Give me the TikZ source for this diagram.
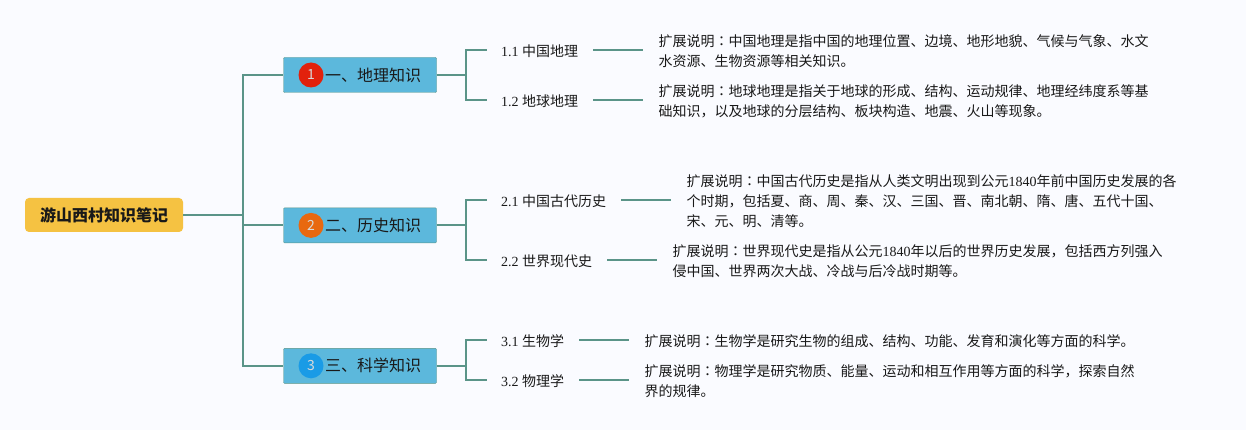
\documentclass[tikz,border=0pt]{standalone}
\usepackage{fontspec}
\usepackage{xcolor}
\setmainfont{Noto Sans CJK SC}
\newfontfamily\latinfont{Liberation Serif}
\newfontfamily\colonfont{Noto Sans CJK TC}
\usetikzlibrary{positioning}
\definecolor{MapBack}{HTML}{FAFBFF}
\definecolor{MapLine}{HTML}{5A9488}
\definecolor{MapRoot}{HTML}{F5C242}
\definecolor{MapTopic}{HTML}{5CB8DC}
\definecolor{MapBadgeA}{HTML}{E2210C}
\definecolor{MapBadgeB}{HTML}{E8680F}
\definecolor{MapBadgeC}{HTML}{1A9BE6}
\newcommand{\secno}[1]{{\latinfont #1}}
\newcommand{\mapcolon}{{\colonfont ：}}

\begin{document}
\begin{tikzpicture}[x=1pt, y=-1pt, every node/.style={font=\fontsize{14pt}{20pt}\selectfont, text=black!90, inner sep=0pt}]
      \tikzset{
        root/.style={rectangle, rounded corners=4pt, fill=MapRoot, minimum width=158pt, minimum height=34pt, text height=15pt, text depth=2pt, font=\fontsize{16pt}{20pt}\selectfont\bfseries},
        topic/.style={rectangle, rounded corners=1pt, draw=MapLine, fill=MapTopic, minimum width=153pt, minimum height=35pt, font=\fontsize{16pt}{20pt}\selectfont},
        badge/.style={circle, minimum size=25pt, text=white!70!gray, font=\fontsize{14pt}{14pt}\selectfont},
        sub/.style={rectangle, anchor=west, text height=15.5pt, text depth=2pt},
        desc/.style={rectangle, anchor=west, align=left, yshift=-1.5pt},
        line/.style={line width=1.8pt, color=MapLine}
      }
      \fill[MapBack] (0,0) rectangle (1246,430);
      \useasboundingbox (0,0) rectangle (1246,430);

      % Nodes
      \node[root] (root) at (104,215) {游山西村知识笔记};
      \node[topic] (geo) at (360,75) {\hspace*{26pt}一、地理知识};
      \node[topic, below=115pt of geo] (his) {\hspace*{26pt}二、历史知识};
      \node[topic, below=105pt of his] (sci) {\hspace*{26pt}三、科学知识};
      \node[badge, fill=MapBadgeA, right=15pt of geo.west] (geoB) {1};
      \node[badge, fill=MapBadgeB, right=15pt of his.west] (hisB) {2};
      \node[badge, fill=MapBadgeC, right=15pt of sci.west] (sciB) {3};

      \node[sub] (s11) at (501,50) {\secno{1.1 }中国地理};
      \node[sub] (s12) at (501,100) {\secno{1.2 }地球地理};
      \node[sub] (s21) at (501,200) {\secno{2.1 }中国古代历史};
      \node[sub] (s22) at (501,260) {\secno{2.2 }世界现代史};
      \node[sub] (s31) at (501,340) {\secno{3.1 }生物学};
      \node[sub] (s32) at (501,380) {\secno{3.2 }物理学};

      \node[desc, right=80pt of s11] (d11) {扩展说明\mapcolon 中国地理是指中国的地理位置、边境、地形地貌、气候与气象、水文\\水资源、生物资源等相关知识。};
      \node[desc, right=80pt of s12] (d12) {扩展说明\mapcolon 地球地理是指关于地球的形成、结构、运动规律、地理经纬度系等基\\础知识，以及地球的分层结构、板块构造、地震、火山等现象。};
      \node[desc, right=80pt of s21] (d21) {扩展说明\mapcolon 中国古代历史是指从人类文明出现到公元\secno{1840}年前中国历史发展的各\\个时期，包括夏、商、周、秦、汉、三国、晋、南北朝、隋、唐、五代十国、\\宋、元、明、清等。};
      \node[desc, right=80pt of s22] (d22) {扩展说明\mapcolon 世界现代史是指从公元\secno{1840}年以后的世界历史发展，包括西方列强入\\侵中国、世界两次大战、冷战与后冷战时期等。};
      \node[desc, right=80pt of s31] (d31) {扩展说明\mapcolon 生物学是研究生物的组成、结构、功能、发育和演化等方面的科学。};
      \node[desc, right=80pt of s32] (d32) {扩展说明\mapcolon 物理学是研究物质、能量、运动和相互作用等方面的科学，探索自然\\界的规律。};

      \coordinate[right=60pt of root.east] (rootBus);
      \coordinate[right=29.5pt of geo.east] (geoBus);
      \coordinate[right=29.5pt of his.east] (hisBus);
      \coordinate[right=29.5pt of sci.east] (sciBus);

      % Connections
      \draw[line] (root.east) -- (rootBus);
      \draw[line] (rootBus) |- (geo.west);
      \draw[line] (rootBus) |- (his.west);
      \draw[line] (rootBus) |- (sci.west);
      \draw[line] (geo.east) -- (geoBus);
      \draw[line] (his.east) -- (hisBus);
      \draw[line] (sci.east) -- (sciBus);
      \draw[line] (geoBus) |- ([xshift=-14pt]s11.west);
      \draw[line] (geoBus) |- ([xshift=-14pt]s12.west);
      \draw[line] (hisBus) |- ([xshift=-14pt]s21.west);
      \draw[line] (hisBus) |- ([xshift=-14pt]s22.west);
      \draw[line] (sciBus) |- ([xshift=-14pt]s31.west);
      \draw[line] (sciBus) |- ([xshift=-14pt]s32.west);
      \draw[line] ([xshift=15pt]s11.east) -- ([xshift=-15pt]d11.west |- s11.east);
      \draw[line] ([xshift=15pt]s12.east) -- ([xshift=-15pt]d12.west |- s12.east);
      \draw[line] ([xshift=15pt]s21.east) -- ([xshift=-15pt]d21.west |- s21.east);
      \draw[line] ([xshift=15pt]s22.east) -- ([xshift=-15pt]d22.west |- s22.east);
      \draw[line] ([xshift=15pt]s31.east) -- ([xshift=-15pt]d31.west |- s31.east);
      \draw[line] ([xshift=15pt]s32.east) -- ([xshift=-15pt]d32.west |- s32.east);

    \end{tikzpicture}
\end{document}
